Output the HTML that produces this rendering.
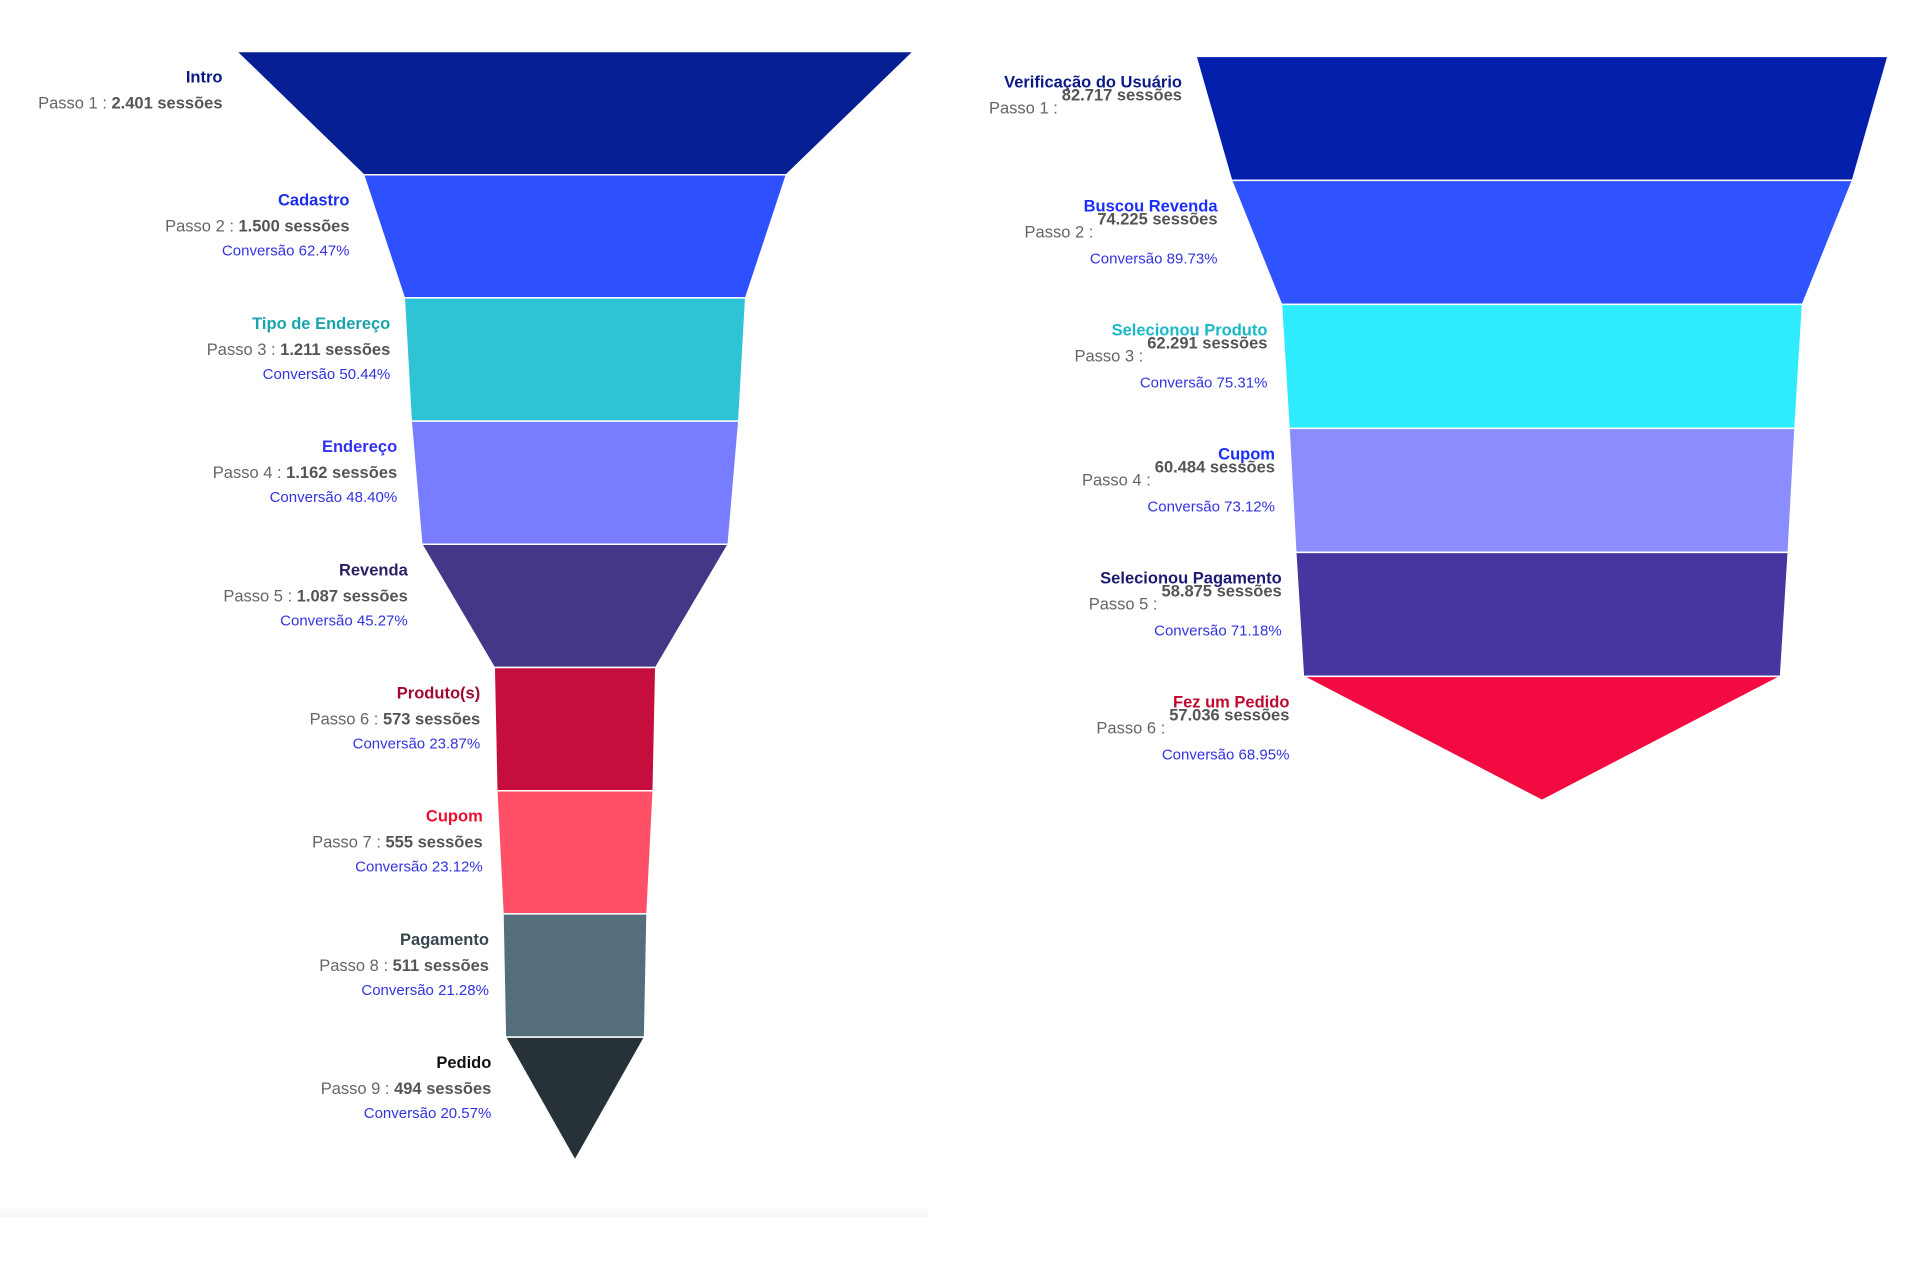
<!DOCTYPE html>
<html><head><meta charset="utf-8"><style>
html,body{margin:0;padding:0;background:#fff;width:1920px;height:1285px;overflow:hidden}
svg{display:block}
text{font-family:"Liberation Sans",sans-serif}
</style></head><body>
<svg id="chart" width="1920" height="1285" viewBox="0 0 1920 1285" xmlns="http://www.w3.org/2000/svg">
<defs><linearGradient id="band" x1="0" y1="0" x2="0" y2="1"><stop offset="0" stop-color="#fff"/><stop offset="1" stop-color="#f6f6f6"/></linearGradient></defs>
<rect x="0" y="1205" width="928" height="12" fill="url(#band)"/>
<g id="left"></g>
<g id="right"></g>
</svg>
<script>
const leftNames=["Intro","Cadastro","Tipo de Endereço","Endereço","Revenda","Produto(s)","Cupom","Pagamento","Pedido"];
const leftValues=[2401,1500,1211,1162,1087,573,555,511,494];
const leftValueLabels=["2.401","1.500","1.211","1.162","1.087","573","555","511","494"];
const leftConv=[null,"62.47%","50.44%","48.40%","45.27%","23.87%","23.12%","21.28%","20.57%"];
const leftFill=["#061f93","#2f50ff","#2ec4d6","#787cff","#463688","#c50d3e","#ff5068","#556e7b","#263238"];
const leftLabel=["#0a1a80","#1a2fe8","#1aa3ad","#3333ee","#2a1e66","#a00b32","#e8102e","#37474f","#111111"];

const rightNames=["Verificação do Usuário","Buscou Revenda","Selecionou Produto","Cupom","Selecionou Pagamento","Fez um Pedido"];
const rightValues=[82717,74225,62291,60484,58875,57036];
const rightValueLabels=["82.717","74.225","62.291","60.484","58.875","57.036"];
const rightConv=[null,"89.73%","75.31%","73.12%","71.18%","68.95%"];
const rightFill=["#051fad","#2f54ff","#2eecfd","#8b8dff","#4935a0","#f20a40"];
const rightLabel=["#0b1a85","#1a2fff","#18b8c8","#1a2fff","#1a1a70","#c00830"];

const NS="http://www.w3.org/2000/svg";
function mk(tag,attrs,parent){const e=document.createElementNS(NS,tag);for(const k in attrs)e.setAttribute(k,attrs[k]);parent.appendChild(e);return e;}

function drawFunnel(g,cfg){
  const n=cfg.values.length;
  const scaleW=v=>cfg.maxW*v/cfg.values[0];
  const rowY=i=>cfg.top+i*cfg.rowH;
  for(let i=0;i<n;i++){
    const wt=scaleW(cfg.values[i]);
    const wb=i<n-1?scaleW(cfg.values[i+1]):0;
    const y0=rowY(i),y1=rowY(i+1);
    const pts=[[cfg.cx-wt/2,y0],[cfg.cx+wt/2,y0],[cfg.cx+wb/2,y1],[cfg.cx-wb/2,y1]].map(p=>p.join(",")).join(" ");
    const poly=mk("polygon",{points:pts,fill:cfg.fill[i],stroke:"#ffffff","stroke-width":"1.5"},g);
    
    
    const rx=cfg.cx-wt/2-14;
    const name=mk("text",{x:rx,y:y0+31,"text-anchor":"end","font-size":"16.5","font-weight":"bold",fill:cfg.label[i]},g);
    name.textContent=cfg.names[i];
    
    
    if(cfg.style==="left"){
      const t=mk("text",{x:rx,y:y0+57,"text-anchor":"end","font-size":"16.5",fill:"#666"},g);
      
      
      const a=mk("tspan",{},t);a.textContent="Passo "+(i+1)+" : ";
      const b=mk("tspan",{"font-weight":"bold",fill:"#555"},t);b.textContent=cfg.valueLabels[i]+" sessões";
    }else{
      const v=mk("text",{x:rx,y:y0+44,"text-anchor":"end","font-size":"16.5","font-weight":"bold",fill:"#555"},g);
      v.textContent=cfg.valueLabels[i]+" sessões";
      
      
      const w=v.getComputedTextLength();
      const p=mk("text",{x:rx-w-4,y:y0+57,"text-anchor":"end","font-size":"16.5",fill:"#666"},g);
      p.textContent="Passo "+(i+1)+" :";
      
      
    }
    if(cfg.conv[i]){
      const c=mk("text",{x:rx,y:y0+(cfg.style==="left"?81:83),"text-anchor":"end","font-size":"15",fill:"#3333dd"},g);
      c.textContent="Conversão "+cfg.conv[i];
      
      
    }
  }
}
drawFunnel(document.getElementById("left"),{names:leftNames,values:leftValues,valueLabels:leftValueLabels,conv:leftConv,fill:leftFill,label:leftLabel,top:51.5,rowH:123.2,maxW:677,cx:575,style:"left"});
drawFunnel(document.getElementById("right"),{names:rightNames,values:rightValues,valueLabels:rightValueLabels,conv:rightConv,fill:rightFill,label:rightLabel,top:56.4,rowH:124,maxW:692,cx:1542,style:"right"});
</script>
</body></html>
